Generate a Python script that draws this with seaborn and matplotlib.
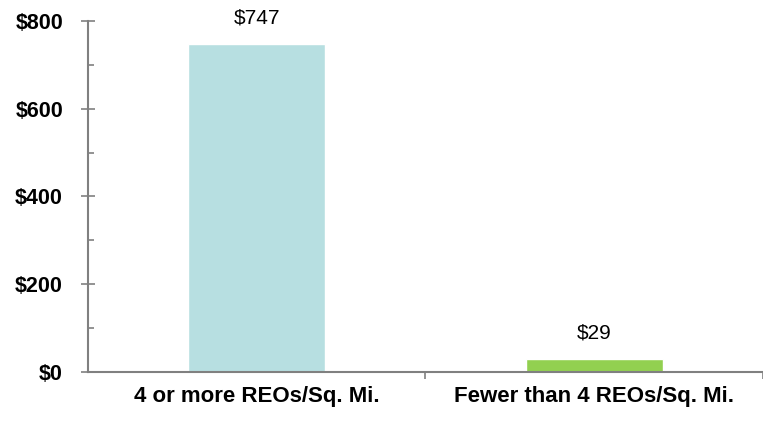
import pandas as pd
import matplotlib.pyplot as plt
import seaborn as sns
from matplotlib.ticker import MultipleLocator, FixedLocator

# Data
categories = ["4 or more REOs/Sq. Mi.", "Fewer than 4 REOs/Sq. Mi."]
values = [747, 29]
labels = ["$747", "$29"]
colors = ["#B7DFE1", "#92D050"]

df = pd.DataFrame({"group": categories, "value": values})

sns.set_style("white")
plt.rcParams["font.family"] = ["Liberation Sans", "DejaVu Sans"]
plt.rcParams["text.color"] = "black"
plt.rcParams["xtick.color"] = "black"
plt.rcParams["ytick.color"] = "black"

fig = plt.figure(figsize=(7.63, 4.22), dpi=100)
ax = fig.add_axes([0.1153, 0.1185, 0.8847, 0.8318])

sns.barplot(data=df, x="group", y="value", hue="group", palette=colors,
            width=0.405, dodge=False, legend=False, ax=ax, saturation=1)

ax.set_xlim(-0.5, 1.5)
ax.set_ylim(0, 800)

# value labels
for i, (v, lab) in enumerate(zip(values, labels)):
    ax.annotate(lab, (i, v), xytext=(0, 12), textcoords="offset points",
                ha="center", va="bottom", fontsize=15, color="black")

# y axis
ax.yaxis.set_minor_locator(MultipleLocator(100))
ax.set_yticks([0, 200, 400, 600, 800])
ax.set_yticklabels(["$0", "$200", "$400", "$600", "$800"],
                   fontsize=15.5, fontweight="bold")
ax.tick_params(axis="y", which="major", direction="inout", length=10,
               width=1.2, color="#808080", labelcolor="black", pad=13, left=True)
ax.tick_params(axis="y", which="minor", direction="in", length=4,
               width=1.2, color="#808080", left=True)

# x axis
ax.xaxis.set_minor_locator(FixedLocator([0.5, 1.5]))
ax.set_xticks([0, 1])
ax.set_xticklabels(categories, fontsize=16, fontweight="bold")
ax.tick_params(axis="x", which="major", length=0, pad=10, labelcolor="black")
ax.tick_params(axis="x", which="minor", direction="out", length=5,
               width=1.2, color="#808080", bottom=True)

ax.set_xlabel("")
ax.set_ylabel("")
for s in ["top", "right"]:
    ax.spines[s].set_visible(False)
for s in ["left", "bottom"]:
    ax.spines[s].set_color("#808080")
    ax.spines[s].set_linewidth(1.5)

fig.savefig("out.png", dpi=100)
